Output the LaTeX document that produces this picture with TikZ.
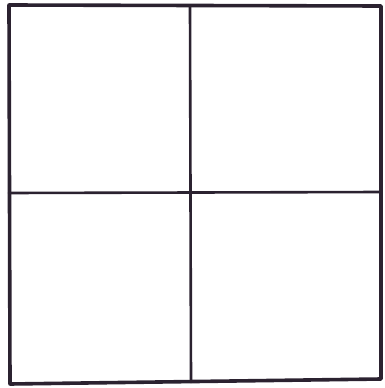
\documentclass[tikz,border=0pt]{standalone}
\definecolor{ink}{HTML}{2B2230}
\begin{document}
\begin{tikzpicture}[x=1pt, y=-1pt, line join=round, line cap=round]
    \useasboundingbox (0,0) rectangle (385,388);

    % corners of the frame
    \coordinate (tl) at (9,5);
    \coordinate (tr) at (381,6);
    \coordinate (br) at (381,379);
    \coordinate (bl) at (10,384);

    % outer frame
    \draw[ink, line width=3.6pt] (tl) -- (tr) -- (br) -- (bl) -- cycle;

    % dividers
    \coordinate (top) at (190,6);
    \coordinate (bot) at (191,382);
    \coordinate (lft) at (9,193);
    \coordinate (rgt) at (381,192);
    \draw[ink, line width=2.6pt] (top) -- (bot);
    \draw[ink, line width=2.6pt] (lft) -- (rgt);
\end{tikzpicture}
\end{document}
